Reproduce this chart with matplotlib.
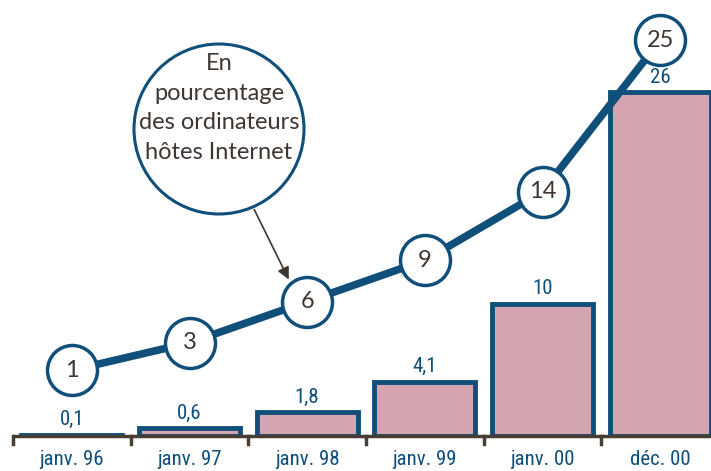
import matplotlib
matplotlib.use("Agg")
import matplotlib.pyplot as plt
from matplotlib.patches import Circle
from matplotlib.transforms import IdentityTransform
from matplotlib import font_manager

categories = ["janv. 96", "janv. 97", "janv. 98", "janv. 99", "janv. 00", "déc. 00"]
bar_values = [0.1, 0.6, 1.8, 4.1, 10, 26]
bar_labels = ["0,1", "0,6", "1,8", "4,1", "10", "26"]
line_values = [1, 3, 6, 9, 14, 25]
callout_text = "En\npourcentage\ndes ordinateurs\nhôtes Internet"

BLUE = "#0f4f7a"
PINK = "#d4a5b0"
BROWN = "#3f3631"
AXIS = "#4a3d33"

names = sorted({f.name for f in font_manager.fontManager.ttflist})
cond_name = None
for cand in ["Liberation Sans Narrow", "DejaVu Sans Condensed", "Roboto Condensed", "Open Sans Condensed"]:
    if cand in names:
        cond_name = cand
        break
COND = dict(family=[cond_name or "DejaVu Sans", "DejaVu Sans"], fontstretch="condensed")
LIGHT = dict(family=["Lato", "DejaVu Sans"], fontweight="normal")

W, H = 711, 471
fig = plt.figure(figsize=(W / 100, H / 100), dpi=100)
ax = fig.add_axes([13 / W, 35 / H, 706 / W, 1 - 35 / H])
ax.set_xlim(-0.5, 5.5)
ax.set_ylim(0, 33)
ax.axis("off")

x = list(range(len(categories)))
ax.bar(x, bar_values, width=0.86, color=PINK, edgecolor=BLUE, linewidth=3.5, zorder=2)
for xi, v, lab in zip(x, bar_values, bar_labels):
    ax.annotate(lab, (xi, v), xytext=(0, 4), textcoords="offset points",
                ha="center", va="bottom", color=BLUE, fontsize=15, **COND)

# baseline axis with ticks
ax.plot([-0.5, 5.5], [0, 0], color=AXIS, lw=2.5, clip_on=False, zorder=3,
        solid_capstyle="butt")
for b in range(len(categories) + 1):
    ax.plot([b - 0.5, b - 0.5], [0, -0.6], color=AXIS, lw=2.5, clip_on=False, zorder=3)
for xi, c in zip(x, categories):
    ax.annotate(c, (xi, 0), xytext=(0, -10), textcoords="offset points",
                ha="center", va="top", color=BLUE, fontsize=15, **COND)

# line on twin scale
ax2 = fig.add_axes(ax.get_position(), sharex=ax)
ax2.set_ylim(-3.78, 27.93)
ax2.axis("off")
ax2.patch.set_visible(False)
ax2.plot(x, line_values, color=BLUE, lw=5.5, zorder=3, solid_capstyle="round")
ax2.plot(x, line_values, "o", ms=36, mfc="white", mec=BLUE, mew=2.5, zorder=4)
for xi, v in zip(x, line_values):
    ax2.text(xi, v, str(v), ha="center", va="center", color=BROWN,
             fontsize=17, zorder=5, **LIGHT)

# callout
cx, cy, r = 219, H - 129, 85
fig.patches.append(Circle((cx, cy), r, transform=IdentityTransform(),
                          facecolor="white", edgecolor=BLUE, lw=2.2, zorder=5))
fig.text(cx / W, (H - 108) / H, callout_text, ha="center", va="center",
         color=BROWN, fontsize=17, linespacing=1.5, zorder=6, **LIGHT)
ax2.annotate("", xy=(290, H - 282), xycoords="figure pixels",
             xytext=(253, H - 207), textcoords="figure pixels",
             arrowprops=dict(arrowstyle="-|>", color=BROWN, lw=1.2,
                             mutation_scale=18), zorder=6)

fig.savefig("out.png", dpi=100)
